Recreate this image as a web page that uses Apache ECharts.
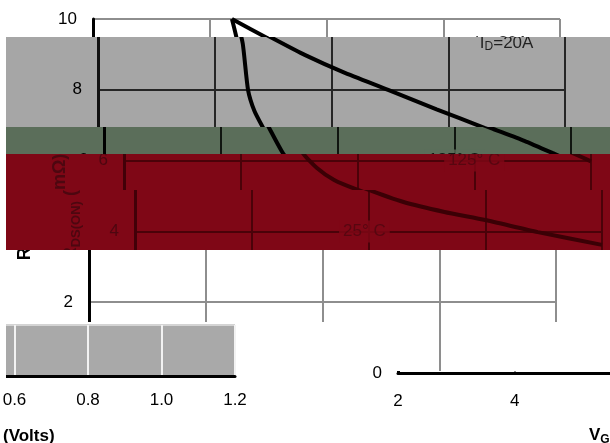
<!DOCTYPE html>
<html><head><meta charset="utf-8">
<script src="https://cdn.jsdelivr.net/npm/echarts@6/dist/echarts.min.js"></script>
<style>
html,body{margin:0;padding:0;background:#fff;}
#root{position:relative;width:610px;height:443px;overflow:hidden;background:#fff;}
.clip{position:absolute;overflow:hidden;}
.frame{position:absolute;width:610px;height:443px;}
</style></head><body><div id="root"></div>
<script>
// ---- data ----
const vgsMin = 2, vgsMax = 10, vgsStep = 2;          // V_GS axis (Volts)
const rdsMin = 0, rdsMax = 10, rdsStep = 2;          // R_DS(ON) axis (mOhm)
const curve125 = [[4.38,10],[5.0,9.45],[5.55,8.98],[6.2,8.5],[6.97,8.0],[7.8,7.45],[8.63,6.92],[9.2,6.56],[9.69,6.21],[10,5.98]];
const curve25  = [[4.38,10],[4.48,9.3],[4.57,8.0],[4.68,7.4],[4.83,6.92],[5.07,6.2],[5.3,5.8],[5.6,5.45],[5.96,5.2],[6.6,4.83],[7.3,4.55],[8.0,4.32],[8.9,3.98],[10,3.62]];
const annoX = [9.0, 8.0, 5.93];
const annoY = [9.32, 6.0, 4.0];
const annoText = ['{t|I}{u|D}{t|=20A}', '{t|125° C}', '{t|25° C}'];
const xTitle = '{b|V}{s|GS}{n| (Volts)}';
const yTitle = '{b|R}{s|DS(ON)}{n| (mΩ)}';
// fragment of a neighbouring chart (bottom-left)
const otherMin = 0.4, otherMax = 1.2, otherStep = 0.2;
const otherTitle = '(Volts)';

const FONT = 'Liberation Sans';
const themes = {
  white:{bg:'#ffffff',grid:'#8e8e8e',axis:'#000000',text:'#000000',curve:'#000000'},
  gray: {bg:'#a6a6a6',grid:'#262626',axis:'#111111',text:'#000000',curve:'#000000'},
  green:{bg:'#5b6e5a',grid:'#101510',axis:'#000000',text:'#000000',curve:'#000000'},
  red:  {bg:'#7f0716',grid:'#4a0209',axis:'#420008',text:'#4d0710',curve:'#3b0005'}
};

function mainOption(t){
  const xRich = {
    b:{fontSize:17,fontWeight:'bold',color:t.text,lineHeight:22,fontFamily:FONT},
    s:{fontSize:12,fontWeight:'bold',color:t.text,lineHeight:12,verticalAlign:'bottom',fontFamily:FONT},
    n:{fontSize:17,fontWeight:'bold',color:t.text,lineHeight:22,fontFamily:FONT}
  };
  const yRich = {
    b:{fontSize:18,fontWeight:'bold',color:t.text,lineHeight:23,fontFamily:FONT},
    s:{fontSize:13,fontWeight:'bold',color:t.text,lineHeight:13,verticalAlign:'bottom',fontFamily:FONT},
    n:{fontSize:18,fontWeight:'bold',color:t.text,lineHeight:23,fontFamily:FONT}
  };
  const annoRich = {
    t:{fontSize:17,color:t.text,lineHeight:20,fontFamily:FONT},
    u:{fontSize:12,color:t.text,lineHeight:12,verticalAlign:'bottom',fontFamily:FONT}
  };
  return {
    animation:false,
    backgroundColor:'transparent',
    grid:{left:93,right:50,top:19,bottom:70,show:false,outerBoundsMode:'none',containLabel:false},
    xAxis:{type:'value',min:vgsMin,max:vgsMax,interval:vgsStep,
      name:xTitle,nameLocation:'middle',nameGap:51,nameTextStyle:{rich:xRich},
      axisLine:{show:true,lineStyle:{color:t.axis,width:3}},axisTick:{show:false},
      axisLabel:{color:t.text,fontSize:17,margin:20,fontFamily:FONT},
      splitLine:{show:true,lineStyle:{color:t.grid,width:2}}},
    yAxis:{type:'value',min:rdsMin,max:rdsMax,interval:rdsStep,
      name:yTitle,nameLocation:'middle',nameGap:52,nameTextStyle:{rich:yRich,padding:[0,22,0,0]},
      axisLine:{show:true,lineStyle:{color:t.axis,width:3}},axisTick:{show:false},
      axisLabel:{color:t.text,fontSize:17,margin:16,fontFamily:FONT},
      splitLine:{show:true,lineStyle:{color:t.grid,width:2}}},
    series:[
      {type:'line',data:curve125,showSymbol:false,smooth:0.2,z:3,lineStyle:{color:t.curve,width:4}},
      {type:'line',data:curve25,showSymbol:false,smooth:0.2,z:3,lineStyle:{color:t.curve,width:4}},
      {type:'scatter',symbolSize:0,z:6,silent:true,
        data:annoX.map((x,i)=>({value:[x,annoY[i]],
          label:{formatter:annoText[i],backgroundColor:i===0?'transparent':t.bg}})),
        label:{show:true,position:'inside',rich:annoRich,padding:[1,4]}}
    ]
  };
}

function otherOption(){
  return {
    animation:false,
    backgroundColor:'transparent',
    grid:{left:41,right:275,top:325,bottom:67,show:true,backgroundColor:'#a9a9a9',borderWidth:0,outerBoundsMode:'none',containLabel:false},
    xAxis:{type:'value',min:otherMin,max:otherMax,interval:otherStep,
      axisLine:{show:true,lineStyle:{color:'#000',width:3}},axisTick:{show:false},
      axisLabel:{color:'#000',fontSize:17,margin:16,fontFamily:FONT,formatter:v=>v.toFixed(1)},
      splitLine:{show:true,lineStyle:{color:'#f2f2f2',width:2}}},
    yAxis:{type:'value',min:0,max:1,interval:1,axisLine:{show:false},axisTick:{show:false},
      axisLabel:{show:false},splitLine:{show:true,lineStyle:{color:'#d4d4d4',width:2}}},
    graphic:[{type:'text',left:103,top:428,style:{text:otherTitle,font:'bold 17px "Liberation Sans"',fill:'#000'}}],
    series:[]
  };
}

// horizontal slices of the picture: clip rectangle, horizontal offset, look
const slices = [
  {x:0,y:0,w:610,h:37,dx:0,theme:'white',kind:'main'},
  {x:6,y:37,w:604,h:90,dx:5,theme:'gray',kind:'main'},
  {x:6,y:127,w:604,h:27,dx:11,theme:'green',kind:'main'},
  {x:6,y:154,w:604,h:36,dx:31,theme:'red',kind:'main'},
  {x:6,y:190,w:604,h:60,dx:42,theme:'red',kind:'main'},
  {x:0,y:250,w:610,h:72,dx:-4,theme:'white',kind:'main'},
  {x:245,y:364,w:365,h:16,dx:305,theme:'white',kind:'main'},
  {x:396,y:322,w:134,h:49,dx:-4,theme:'white',kind:'main'},
  {x:300,y:380,w:310,h:63,dx:305,theme:'white',kind:'main'},
  {x:6,y:322,w:239,h:58,dx:-100,theme:'white',kind:'other'},
  {x:0,y:380,w:300,h:63,dx:-100,theme:'white',kind:'other'}
];

const root = document.getElementById('root');
slices.forEach(s=>{
  const clip = document.createElement('div');
  clip.className='clip';
  clip.style.left=s.x+'px'; clip.style.top=s.y+'px';
  clip.style.width=s.w+'px'; clip.style.height=s.h+'px';
  clip.style.background=themes[s.theme].bg;
  const frame = document.createElement('div');
  frame.className='frame';
  frame.style.left=(s.dx - s.x)+'px'; frame.style.top=(-s.y)+'px';
  clip.appendChild(frame); root.appendChild(clip);
  const chart = echarts.init(frame,null,{renderer:'canvas',width:610,height:443});
  chart.setOption(s.kind==='main'?mainOption(themes[s.theme]):otherOption());
});
</script></body></html>
